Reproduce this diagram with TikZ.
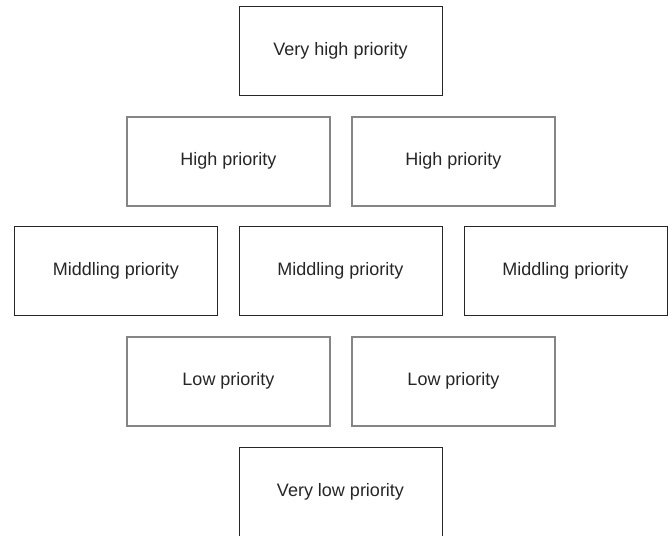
\documentclass[tikz,border=0pt]{standalone}
\usepackage{fontspec}
\setmainfont{Liberation Sans}

\begin{document}
\begin{tikzpicture}[
        x=1pt, y=-1pt,
        every node/.style={rectangle, minimum width=203pt, minimum height=89pt, inner sep=0pt, font=\fontsize{18}{21}\selectfont, text=black!85},
        plainbox/.style={draw=black!85, line width=1pt},
        greybox/.style={draw=black!48, line width=2pt}
    ]
    \useasboundingbox (0,0) rectangle (668,535);
    \clip (0,0) rectangle (668,535);
    % top
    \node [plainbox] (veryhigh) at (340.5,51) {Very high priority};
    % second row
    \node [greybox] (highleft) at (228.5,161) {High priority};
    \node [greybox] (highright) at (453.5,161) {High priority};
    % middle row
    \node [plainbox] (midleft) at (116,271) {Middling priority};
    \node [plainbox] (midcentre) at (340.5,271) {Middling priority};
    \node [plainbox] (midright) at (565.5,271) {Middling priority};
    % fourth row
    \node [greybox] (lowleft) at (228.5,381) {Low priority};
    \node [greybox] (lowright) at (453.5,381) {Low priority};
    % bottom, cut off by the page edge
    \node [plainbox] (verylow) at (340.5,492) {Very low priority};
\end{tikzpicture}
\end{document}
